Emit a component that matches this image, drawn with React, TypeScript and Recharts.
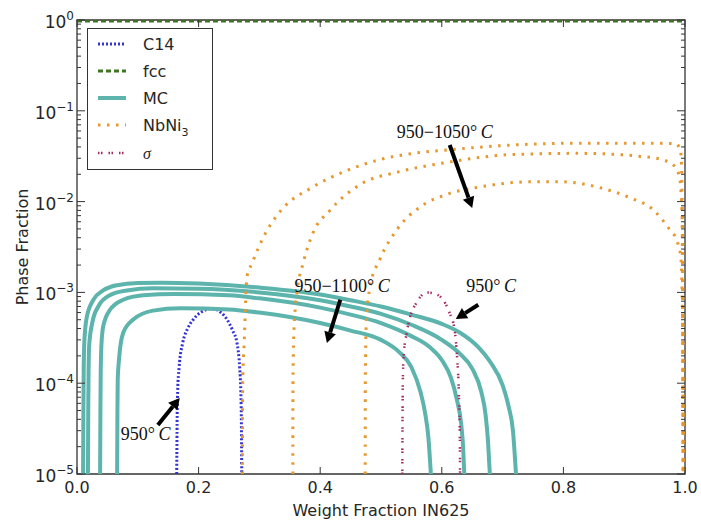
import React from 'react';
import {
  LineChart, Line, XAxis, YAxis, ReferenceArea, ReferenceLine, ReferenceDot, Legend,
} from 'recharts';

// ---------- data ----------
const C14 = [
  [0.1640, 1e-5], [0.1645, 3e-5], [0.1655, 8e-5], [0.168, 1.5e-4], [0.174, 2.8e-4], [0.182, 4e-4],
  [0.191, 5e-4], [0.203, 6e-4], [0.222, 6.6e-4], [0.237, 6e-4], [0.247, 5e-4], [0.256, 3.8e-4],
  [0.263, 2.8e-4], [0.2675, 1.5e-4], [0.2695, 8e-5], [0.2705, 3e-5], [0.2710, 1e-5],
];
const FCC = [[0, 0.975], [1, 0.975]];
const MC_A = [
  [0.0100, 1e-5], [0.0105, 5e-5], [0.0110, 1.3e-4], [0.0120, 2.8e-4], [0.016, 5.3e-4], [0.027, 8.3e-4],
  [0.043, 1.05e-3], [0.066, 1.2e-3], [0.1, 1.27e-3], [0.14, 1.28e-3], [0.2, 1.25e-3], [0.3, 1.13e-3],
  [0.4, 9.5e-4], [0.45, 8.2e-4], [0.5, 7.0e-4], [0.55, 5.7e-4], [0.6, 4.5e-4], [0.63, 3.6e-4],
  [0.66, 2.5e-4], [0.68, 1.7e-4], [0.70, 9.5e-5], [0.71, 5.5e-5], [0.717, 3e-5], [0.722, 1e-5],
];
const MC_B = [
  [0.0180, 1e-5], [0.0185, 5e-5], [0.0190, 1.3e-4], [0.0200, 2.6e-4], [0.025, 4.6e-4], [0.035, 7e-4],
  [0.054, 9.3e-4], [0.082, 1.05e-3], [0.125, 1.11e-3], [0.2, 1.1e-3], [0.3, 1.0e-3], [0.4, 8.2e-4],
  [0.45, 7.0e-4], [0.5, 5.8e-4], [0.55, 4.4e-4], [0.6, 3.0e-4], [0.63, 2.1e-4], [0.65, 1.45e-4],
  [0.665, 8e-5], [0.672, 4.5e-5], [0.676, 2.3e-5], [0.679, 1e-5],
];
const MC_C = [
  [0.0380, 1e-5], [0.0385, 5e-5], [0.0390, 1.3e-4], [0.0400, 2.5e-4], [0.043, 4.2e-4], [0.054, 6.4e-4],
  [0.076, 8.3e-4], [0.109, 9.3e-4], [0.16, 9.6e-4], [0.25, 9.3e-4], [0.3, 8.6e-4], [0.4, 6.8e-4],
  [0.45, 5.7e-4], [0.5, 4.6e-4], [0.55, 3.3e-4], [0.58, 2.5e-4], [0.6, 1.8e-4], [0.615, 1.15e-4],
  [0.625, 6.5e-5], [0.632, 3.5e-5], [0.635, 2e-5], [0.637, 1e-5],
];
const MC_D = [
  [0.0660, 1e-5], [0.0665, 5e-5], [0.0670, 1.1e-4], [0.069, 1.8e-4], [0.076, 3.6e-4], [0.092, 5e-4],
  [0.125, 6.3e-4], [0.17, 6.7e-4], [0.25, 6.5e-4], [0.3, 6.0e-4], [0.4, 4.6e-4], [0.45, 3.8e-4],
  [0.5, 3.0e-4], [0.53, 2.2e-4], [0.55, 1.5e-4], [0.565, 8e-5], [0.573, 4.5e-5], [0.578, 2.5e-5],
  [0.582, 1e-5],
];
const NB_1 = [
  [0.2720, 1e-5], [0.2725, 1e-4], [0.275, 2.8e-4], [0.2796, 1.5e-3], [0.288, 2.1e-3], [0.31, 4.5e-3],
  [0.325, 6.5e-3], [0.339, 8.5e-3], [0.388, 1.45e-2], [0.444, 2.2e-2], [0.498, 2.9e-2], [0.553, 3.4e-2],
  [0.608, 3.7e-2], [0.717, 4.2e-2], [0.827, 4.4e-2], [0.937, 4.4e-2], [0.985, 4.35e-2], [0.993, 3.5e-2],
  [0.996, 5e-3], [0.997, 1e-5],
];
const NB_2 = [
  [0.3550, 1e-5], [0.3552, 1e-4], [0.357, 4e-4], [0.362, 1e-3], [0.372, 2.1e-3], [0.388, 4.5e-3],
  [0.416, 8e-3], [0.47, 1.6e-2], [0.526, 2.1e-2], [0.608, 2.7e-2], [0.717, 3.3e-2], [0.827, 3.4e-2],
  [0.937, 3.1e-2], [0.975, 2.7e-2], [0.99, 2.0e-2], [0.995, 8e-3], [0.997, 1e-5],
];
const NB_3 = [
  [0.4740, 1e-5], [0.4742, 1e-4], [0.476, 5e-4], [0.482, 1.15e-3], [0.498, 2.3e-3], [0.526, 4.9e-3],
  [0.564, 8.7e-3], [0.608, 1.2e-2], [0.663, 1.45e-2], [0.745, 1.65e-2], [0.80, 1.65e-2], [0.855, 1.45e-2],
  [0.91, 1.1e-2], [0.948, 8.1e-3], [0.975, 4.9e-3], [0.986, 3.8e-3], [0.993, 2.5e-3], [0.996, 5e-4],
  [0.997, 1e-5],
];
const SIGMA = [
  [0.5350, 1e-5], [0.5355, 5e-5], [0.536, 1.2e-4], [0.5375, 2.1e-4], [0.542, 3.5e-4], [0.548, 5.4e-4],
  [0.558, 7.6e-4], [0.575, 1.0e-3], [0.59, 9.6e-4], [0.60, 8.6e-4], [0.613, 5.9e-4], [0.621, 3.9e-4],
  [0.625, 2e-4], [0.628, 8e-5], [0.6295, 3e-5], [0.630, 1e-5],
];

const X_TICKS = [0, 0.2, 0.4, 0.6, 0.8, 1.0];
const Y_MAJOR = [1e-5, 1e-4, 1e-3, 1e-2, 1e-1, 1];
const Y_EXP = ['\u22125', '\u22124', '\u22123', '\u22122', '\u22121', '0'];
const MINOR_MULT = [2, 3, 4, 5, 6, 7, 8, 9];

// annotations: [label main, x, y] and arrows [tailX, tailY, headX, headY]
const ANNOTATIONS = [
  { text: '950\u22121050', x: 0.605, y: 0.058 },
  { text: '950\u22121100', x: 0.436, y: 1.17e-3 },
  { text: '950', x: 0.681, y: 1.17e-3 },
  { text: '950', x: 0.113, y: 2.76e-5 },
];
const ARROWS = [
  [0.613, 0.042, 0.65, 8.5e-3],
  [0.433, 8.3e-4, 0.411, 2.77e-4],
  [0.66, 7.3e-4, 0.623, 5.1e-4],
  [0.133, 3.47e-5, 0.169, 6.87e-5],
];

// ---------- styles ----------
const W = 701;
const H = 523;
const PLOT_LEFT = 77;
const PLOT_RIGHT = 685;
const PLOT_TOP = 20;
const PLOT_BOTTOM = 474;
const AXIS_COLOR = '#333333';
const TEXT_COLOR = '#262626';
const FONT = '"DejaVu Sans", sans-serif';
const SERIF = '"Liberation Serif", "DejaVu Serif", serif';

const STYLES = {
  c14: { color: '#3434d2', width: 3, dash: '2 2' },
  fcc: { color: '#3f7420', width: 3, dash: '5 3' },
  mc: { color: '#5db4ad', width: 4, dash: undefined },
  nb: { color: '#e6982f', width: 3, dash: '2.5 6.5' },
  sigma: { color: '#a52a64', width: 2.5, dash: '1.5 1.5 1.5 6' },
};

const LEGEND_ITEMS = [
  { key: 'c14', label: 'C14' },
  { key: 'fcc', label: 'fcc' },
  { key: 'mc', label: 'MC' },
  { key: 'nb', label: 'NbNi3' },
  { key: 'sigma', label: 'σ' },
];

const toPts = (arr) => arr.map(([x, y]) => ({ x, y }));

const SERIES = [
  { id: 'c14', data: C14, s: STYLES.c14 },
  { id: 'fcc', data: FCC, s: STYLES.fcc },
  { id: 'mcA', data: MC_A, s: STYLES.mc },
  { id: 'mcB', data: MC_B, s: STYLES.mc },
  { id: 'mcC', data: MC_C, s: STYLES.mc },
  { id: 'mcD', data: MC_D, s: STYLES.mc },
  { id: 'nb1', data: NB_1, s: STYLES.nb },
  { id: 'nb2', data: NB_2, s: STYLES.nb },
  { id: 'nb3', data: NB_3, s: STYLES.nb },
  { id: 'sigma', data: SIGMA, s: STYLES.sigma },
];

const Y_MINOR = Y_MAJOR.slice(0, -1).flatMap((d) => MINOR_MULT.map((m) => m * d));
const Y_TICKS = [...Y_MAJOR, ...Y_MINOR].sort((a, b) => a - b);

const isMajor = (v) => Y_MAJOR.some((m) => Math.abs(m - v) / m < 1e-6);

const YTick = (props) => {
  const { y, payload } = props;
  const v = payload.value;
  const major = isMajor(v);
  const len = major ? 8 : 4;
  const idx = Y_MAJOR.findIndex((m) => Math.abs(m - v) / m < 1e-6);
  return (
    <g>
      <line x1={PLOT_LEFT} x2={PLOT_LEFT + len} y1={y} y2={y} stroke={AXIS_COLOR} strokeWidth={1} />
      <line x1={PLOT_RIGHT - len} x2={PLOT_RIGHT} y1={y} y2={y} stroke={AXIS_COLOR} strokeWidth={1} />
      {major && (
        <text x={PLOT_LEFT - 3} y={y + 8} textAnchor="end" fontSize={17} fill={TEXT_COLOR} fontFamily={FONT}>
          10<tspan dy={-8} fontSize={12}>{Y_EXP[idx]}</tspan>
        </text>
      )}
    </g>
  );
};

const XTick = (props) => {
  const { x, payload } = props;
  return (
    <g>
      <line x1={x} x2={x} y1={PLOT_BOTTOM} y2={PLOT_BOTTOM - 7} stroke={AXIS_COLOR} strokeWidth={1} />
      <line x1={x} x2={x} y1={PLOT_TOP} y2={PLOT_TOP + 7} stroke={AXIS_COLOR} strokeWidth={1} />
      <text x={x} y={PLOT_BOTTOM + 19} textAnchor="middle" fontSize={16} fill={TEXT_COLOR} fontFamily={FONT}>
        {payload.value.toFixed(1)}
      </text>
    </g>
  );
};

const Arrow = (p) => {
  const { x1, y1, x2, y2 } = p;
  if ([x1, y1, x2, y2].some((v) => typeof v !== 'number' || isNaN(v))) return null;
  const dx = x2 - x1;
  const dy = y2 - y1;
  const L = Math.hypot(dx, dy) || 1;
  const ux = dx / L;
  const uy = dy / L;
  const headLen = 11;
  const headW = 6;
  const bx = x2 - ux * headLen;
  const by = y2 - uy * headLen;
  const px = -uy;
  const py = ux;
  return (
    <g>
      <line x1={x1} y1={y1} x2={bx} y2={by} stroke="#000" strokeWidth={4} />
      <polygon
        points={`${x2},${y2} ${bx + px * headW},${by + py * headW} ${bx - px * headW},${by - py * headW}`}
        fill="#000"
      />
    </g>
  );
};

const annotationShape = (text) => (p) => {
  const { cx, cy } = p;
  return (
    <text x={cx} y={cy + 6} textAnchor="middle" fontSize={18} fontFamily={SERIF} fill="#111">
      {text}
      <tspan>°</tspan>
      <tspan fontStyle="italic">{'\u2009C'}</tspan>
    </text>
  );
};

const LegendBox = () => {
  const rowsY = [15, 42, 69, 96, 124];
  return (
    <div
      style={{
        width: 126, height: 142, border: '1.5px solid #333', background: '#fff',
        boxSizing: 'border-box', position: 'relative',
      }}
    >
      <svg width={123} height={139} style={{ display: 'block' }}>
        {LEGEND_ITEMS.map((it, i) => {
          const s = STYLES[it.key];
          const y = rowsY[i];
          return (
            <g key={it.key}>
              <line x1={10} x2={38} y1={y} y2={y} stroke={s.color} strokeWidth={s.width} strokeDasharray={s.dash} />
              {it.key === 'nb' ? (
                <text x={55} y={y + 6} fontSize={16} fontFamily={FONT} fill={TEXT_COLOR}>
                  NbNi<tspan dy={5} fontSize={11}>3</tspan>
                </text>
              ) : (
                <text
                  x={55} y={y + 6} fontSize={16} fontFamily={it.key === 'sigma' ? SERIF : FONT}
                  fontStyle={it.key === 'sigma' ? 'italic' : 'normal'} fill={TEXT_COLOR}
                >
                  {it.label}
                </text>
              )}
            </g>
          );
        })}
      </svg>
    </div>
  );
};

export default function App() {
  return (
    <div style={{ position: 'absolute', left: 0, top: 0, width: W, height: H, background: '#fff' }}>
      <LineChart
        width={W}
        height={H}
        margin={{ top: PLOT_TOP, right: W - PLOT_RIGHT, left: 0, bottom: 0 }}
        style={{ fontFamily: FONT }}
      >
        <XAxis
          dataKey="x"
          type="number"
          domain={[0, 1]}
          ticks={X_TICKS}
          interval={0}
          tick={XTick}
          tickLine={false}
          axisLine={false}
          height={H - PLOT_BOTTOM}
          allowDataOverflow
          label={{
            value: 'Weight Fraction IN625', position: 'insideBottom', offset: 7,
            fontSize: 16, fill: TEXT_COLOR, fontFamily: FONT,
          }}
        />
        <YAxis
          type="number"
          scale="log"
          domain={[1e-5, 1]}
          ticks={Y_TICKS}
          interval={0}
          tick={YTick}
          tickLine={false}
          axisLine={false}
          width={PLOT_LEFT}
          allowDataOverflow
          label={{
            value: 'Phase Fraction', angle: -90, position: 'insideLeft', offset: 22,
            fontSize: 16, fill: TEXT_COLOR, fontFamily: FONT, style: { textAnchor: 'middle' },
          }}
        />
        <ReferenceArea
          x1={0} x2={1} y1={1e-5} y2={1}
          fill="none" fillOpacity={0} stroke={AXIS_COLOR} strokeWidth={1.3} ifOverflow="visible"
        />
        {SERIES.map((se) => (
          <Line
            key={se.id}
            data={toPts(se.data)}
            dataKey="y"
            type="monotone"
            stroke={se.s.color}
            strokeWidth={se.s.width}
            strokeDasharray={se.s.dash}
            dot={false}
            activeDot={false}
            isAnimationActive={false}
            legendType="none"
          />
        ))}
        {ARROWS.map((a, i) => (
          <ReferenceLine
            key={`ar${i}`}
            segment={[{ x: a[0], y: a[1] }, { x: a[2], y: a[3] }]}
            shape={Arrow}
            ifOverflow="visible"
          />
        ))}
        {ANNOTATIONS.map((a, i) => (
          <ReferenceDot
            key={`an${i}`}
            x={a.x}
            y={a.y}
            r={0}
            shape={annotationShape(a.text)}
            ifOverflow="visible"
          />
        ))}
        <Legend
          layout="vertical"
          align="center"
          verticalAlign="middle"
          wrapperStyle={{ left: 87, top: 28, width: 126, height: 142 }}
          content={() => <LegendBox />}
        />
      </LineChart>
    </div>
  );
}
